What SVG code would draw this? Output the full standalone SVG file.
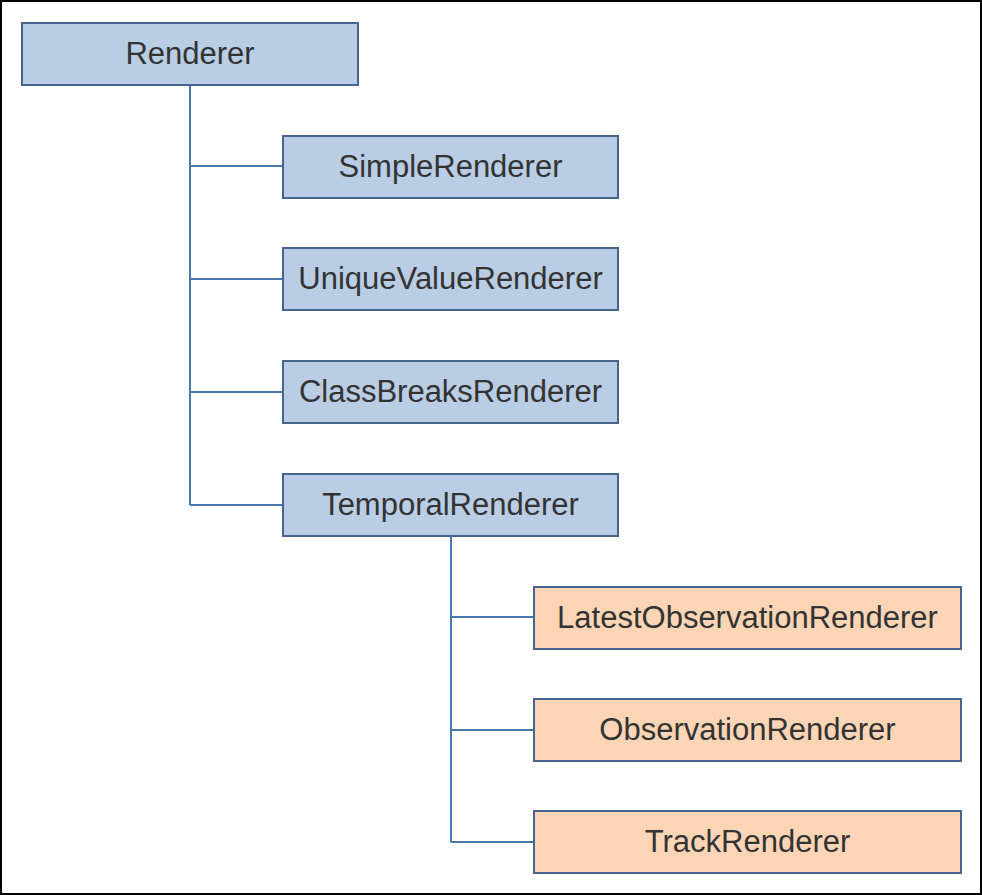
<svg xmlns="http://www.w3.org/2000/svg" width="982" height="895" viewBox="0 0 982 895">
<style>
.b rect{stroke:#46648f;stroke-width:2}
.blue rect{fill:#b9cde5}
.orange rect{fill:#fbd5b5}
text{font-family:"Liberation Sans",Arial,sans-serif;font-size:31px;fill:#333;text-anchor:middle}
.c{stroke:#4a78b0;stroke-width:2;fill:none}
</style>
<rect x="1" y="1" width="980" height="893" fill="#fff" stroke="#000" stroke-width="2"/>
<g id="connectors" class="c">
<path d="M190 85V505M190 166H283M190 279H283M190 392H283M190 505H283"/>
<path d="M451 536V842M451 617H534M451 730H534M451 842H534"/>
</g>
<g id="renderer" class="b blue"><rect x="22" y="23" width="336" height="62"/><text x="190" y="64">Renderer</text></g>
<g id="simple" class="b blue"><rect x="283" y="136" width="335" height="62"/><text x="450.5" y="177">SimpleRenderer</text></g>
<g id="unique" class="b blue"><rect x="283" y="248" width="335" height="62"/><text x="450.5" y="289">UniqueValueRenderer</text></g>
<g id="classbreaks" class="b blue"><rect x="283" y="361" width="335" height="62"/><text x="450.5" y="402">ClassBreaksRenderer</text></g>
<g id="temporal" class="b blue"><rect x="283" y="474" width="335" height="62"/><text x="450.5" y="515">TemporalRenderer</text></g>
<g id="latest" class="b orange"><rect x="534" y="587" width="427" height="62"/><text x="747.5" y="628">LatestObservationRenderer</text></g>
<g id="observation" class="b orange"><rect x="534" y="699" width="427" height="62"/><text x="747.5" y="740">ObservationRenderer</text></g>
<g id="track" class="b orange"><rect x="534" y="811" width="427" height="62"/><text x="747.5" y="852">TrackRenderer</text></g>
</svg>
